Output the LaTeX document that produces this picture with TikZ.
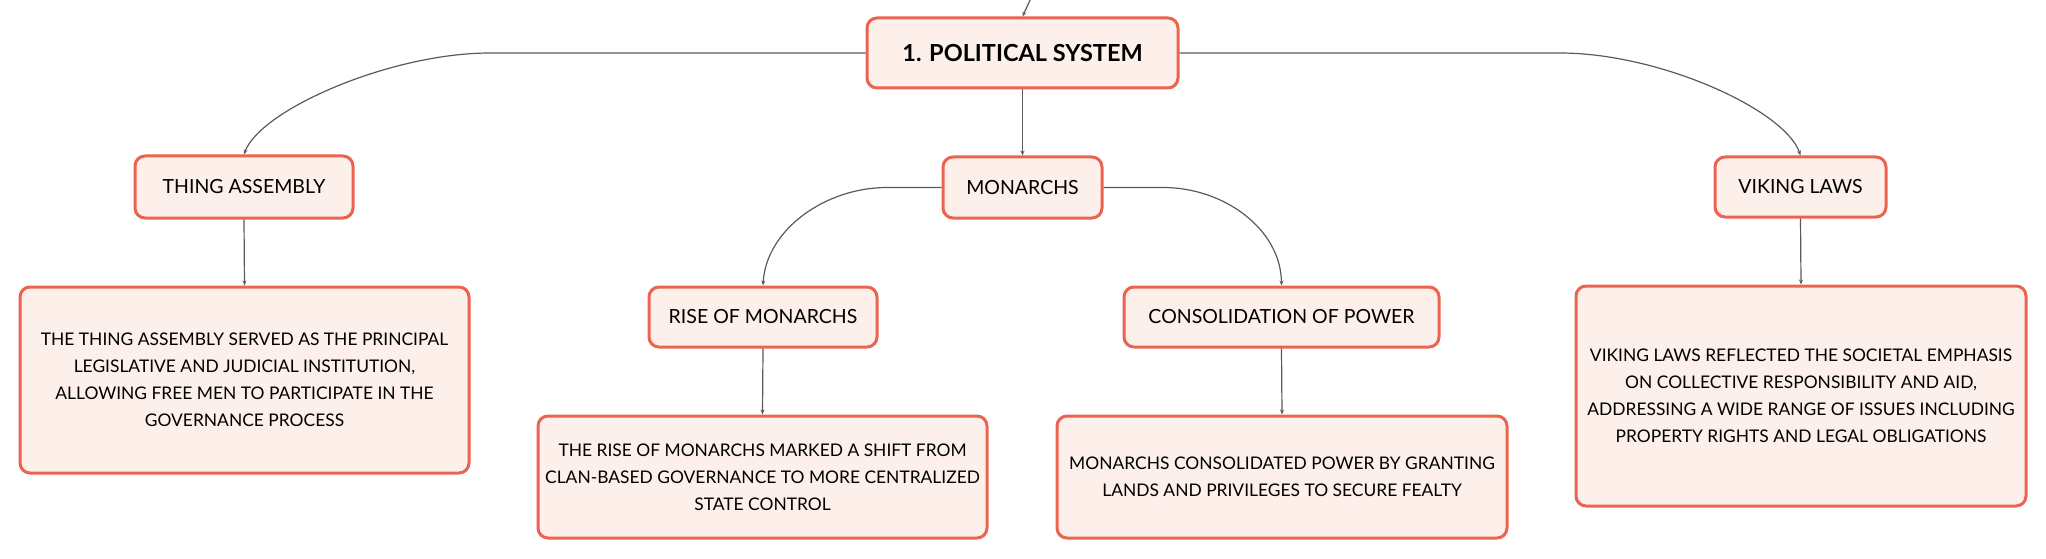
\documentclass[tikz,border=0pt]{standalone}
\usepackage{fontspec}
\setmainfont{Lato}
\usetikzlibrary{arrows.meta}
\definecolor{boxborder}{HTML}{EA6450}
\definecolor{boxfill}{HTML}{FDEFEA}
\definecolor{linkgray}{HTML}{5A5A5A}
\tikzset{
  mapbox/.style={draw=boxborder, fill=boxfill, line width=3pt, rounded corners=10pt,
    inner sep=0pt, align=center, text=black},
  titlebox/.style={mapbox, font=\fontsize{23.5}{28}\selectfont\bfseries},
  labelbox/.style={mapbox, font=\fontsize{19.5}{24}\selectfont},
  detailbox/.style={mapbox, font=\fontsize{17.4}{27}\selectfont},
  link/.style={draw=linkgray, line width=1.2pt, -{Stealth[length=5pt,width=4pt]}},
}
\begin{document}
\begin{tikzpicture}[x=1pt,y=-1pt]
\useasboundingbox (0,0) rectangle (2046,559);

\node[titlebox, minimum width=311pt, minimum height=70pt] (pol) at (1022.5,53) {1. POLITICAL SYSTEM};

\node[labelbox, minimum width=218pt, minimum height=62pt] (thing) at (244,187) {THING ASSEMBLY};
\node[labelbox, minimum width=159pt, minimum height=61pt] (mon) at (1022.5,187.5) {MONARCHS};
\node[labelbox, minimum width=171pt, minimum height=60pt] (vik) at (1800.5,187) {VIKING LAWS};

\node[labelbox, minimum width=228pt, minimum height=60pt] (rise) at (763,317) {RISE OF MONARCHS};
\node[labelbox, minimum width=315pt, minimum height=60pt] (cons) at (1281.5,317) {CONSOLIDATION OF POWER};

\node[detailbox, minimum width=449pt, minimum height=186pt] (thingd) at (244.5,380) {THE THING ASSEMBLY SERVED AS THE PRINCIPAL\\LEGISLATIVE AND JUDICIAL INSTITUTION,\\ALLOWING FREE MEN TO PARTICIPATE IN THE\\GOVERNANCE PROCESS};
\node[detailbox, minimum width=449pt, minimum height=122pt] (rised) at (762.5,477) {THE RISE OF MONARCHS MARKED A SHIFT FROM\\CLAN-BASED GOVERNANCE TO MORE CENTRALIZED\\STATE CONTROL};
\node[detailbox, minimum width=450pt, minimum height=122pt] (consd) at (1282,477) {MONARCHS CONSOLIDATED POWER BY GRANTING\\LANDS AND PRIVILEGES TO SECURE FEALTY};
\node[detailbox, minimum width=450pt, minimum height=220pt] (vikd) at (1801,396) {VIKING LAWS REFLECTED THE SOCIETAL EMPHASIS\\ON COLLECTIVE RESPONSIBILITY AND AID,\\ADDRESSING A WIDE RANGE OF ISSUES INCLUDING\\PROPERTY RIGHTS AND LEGAL OBLIGATIONS};

\coordinate (top) at (1031,-2);
\draw[link] (top) -- (pol.north);

\draw[link] (pol.west) -- (490,53) .. controls (390,53) and (260,110) .. (thing.north);
\draw[link] (pol.east) -- (1560,53) .. controls (1660,53) and (1785,110) .. (vik.north);
\draw[link] (pol.south) -- (mon.north);

\draw[link] (mon.west) -- (887,187.5) .. controls (825,187.5) and (766,230) .. (rise.north);
\draw[link] (mon.east) -- (1163,187.5) .. controls (1225,187.5) and (1281,230) .. (cons.north);

\draw[link] (thing.south) -- (thingd.north);
\draw[link] (vik.south) -- (vikd.north);
\draw[link] (rise.south) -- (rised.north);
\draw[link] (cons.south) -- (consd.north);
\end{tikzpicture}
\end{document}
